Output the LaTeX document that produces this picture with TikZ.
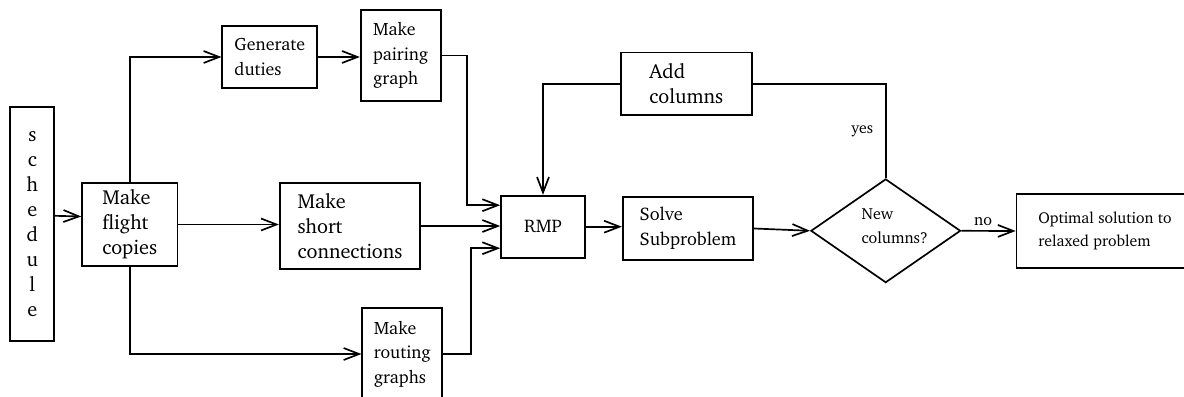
\documentclass[tikz,border=0pt]{standalone}
\usepackage[T1]{fontenc}
\usepackage{charter}
\usetikzlibrary{arrows.meta, calc, shapes.geometric}
\newdimen\pix \pix=0.025cm

\begin{document}
\begin{tikzpicture}[x=0.025cm, y=-0.025cm, line width=1.2pt,
    box/.style={draw, align=left, inner sep=0pt},
    big/.style={font=\fontsize{14.4}{17.8}\selectfont},
    mid/.style={font=\fontsize{12.7}{17.6}\selectfont},
    sml/.style={font=\fontsize{11.2}{16.6}\selectfont},
    arr/.style={-{Straight Barb[length=11pt,width=8.5pt]}}]
    \useasboundingbox (0,0) rectangle (1184,396);
    \node[box, big, align=center, minimum width=44\pix, minimum height=233.7\pix] (sched) at (32.3,223.8) {s\\c\\h\\e\\d\\u\\l\\e};
    \node[box, big, minimum width=95.3\pix, minimum height=83\pix] (flight) at (129.7,224.5) {Make\\flight\\copies};
    \node[box, mid, font=\fontsize{12.7}{17.3}\selectfont, minimum width=95\pix, minimum height=62.6\pix] (duties) at (269.8,57) {Generate\\duties};
    \node[box, mid, minimum width=80\pix, minimum height=90.4\pix] (pairing) at (400.7,55.5) {Make\\pairing\\graph};
    \node[box, big, minimum width=140.6\pix, minimum height=85.7\pix] (short) at (350,226) {Make\\short\\connections};
    \node[box, mid, minimum width=80\pix, minimum height=92\pix] (routing) at (402.3,354) {Make\\routing\\graphs};
    \node[box, font=\fontsize{13}{17.8}\selectfont, minimum width=84\pix, minimum height=62\pix] (rmp) at (543,226.7) {RMP};
    \node[box, big, minimum width=130.7\pix, minimum height=62.7\pix] (add) at (686.3,83.7) {Add\\columns};
    \node[box, font=\fontsize{13}{17.8}\selectfont, minimum width=130.6\pix, minimum height=62.4\pix] (solve) at (688,228.5) {Solve\\Subproblem};
    \node[box, diamond, aspect=1.45, font=\fontsize{11.4}{17.3}\selectfont, text depth=7pt, minimum width=147\pix, minimum height=103.7\pix] (newcol) at (885.7,230.8) {\hspace*{18\pix}New\\\hspace*{18\pix}columns?};
    \node[box, sml, minimum width=177\pix, minimum height=73.4\pix] (opt) at (1105,231) {Optimal solution to\\relaxed problem};

    \draw[arr] ($(sched.east)+(0,-8)$) -- ($(flight.west)+(0,-8)$);
    \draw[arr] (flight.north) |- (duties.west);
    \draw[arr] (duties.east) -- (duties.east -| pairing.west);
    \draw[arr] (flight.east) -- (flight.east -| short.west);
    \draw[arr] (flight.south) |- (routing.west);
    \draw[arr] (pairing.east) -- ++(25.3,0) |- ($(rmp.west)+(0,-21.5)$);
    \draw[arr] (short.east) -- (short.east -| rmp.west);
    \draw[arr] (routing.east) -- ++(27.7,0) |- ($(rmp.west)+(0,21.5)$);
    \draw[arr] (rmp.east) -- (rmp.east -| solve.west);
    \draw[arr] (solve.east) -- (newcol.west);
    \draw[arr] (newcol.east) -- node[pos=0.4, above, font=\fontsize{11.5}{14}\selectfont] {no} (opt.west);
    \draw (newcol.north) |- node[pos=0.25, left=5pt, sml] {yes} (add.east);
    \draw[arr] (add.west) -| (rmp.north);
\end{tikzpicture}
\end{document}
